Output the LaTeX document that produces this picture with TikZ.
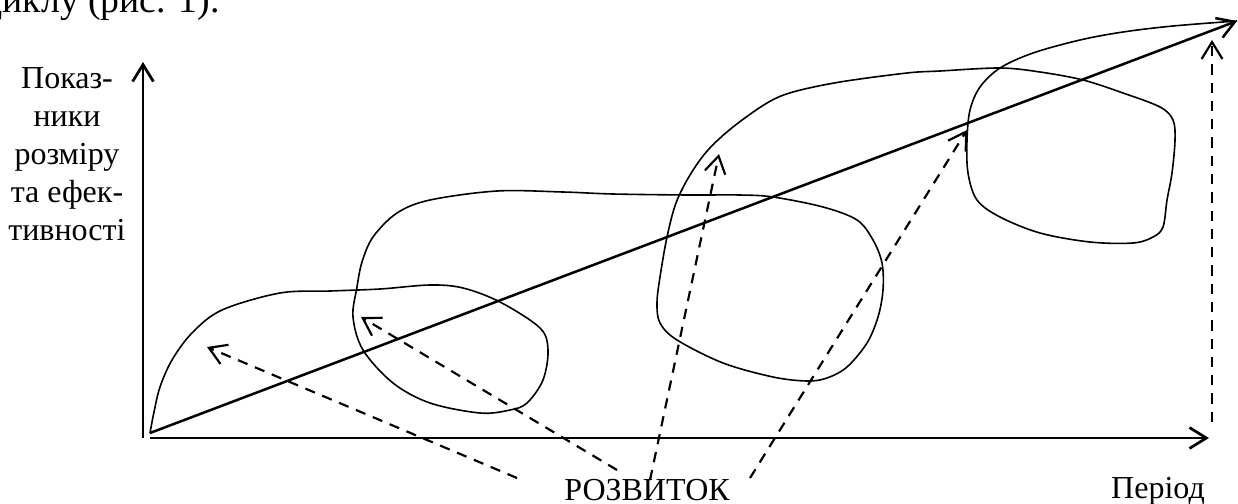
\documentclass[tikz,border=0pt]{standalone}
\usepackage{fontspec}
\setmainfont{Liberation Serif}
\usetikzlibrary{arrows.meta}

\begin{document}
\begin{tikzpicture}[
  x=0.4375pt, y=-0.4375pt,
  font=\fontsize{14}{16.6}\selectfont,
  tip/.style={-{Straight Barb[length=2.6mm,width=3.2mm]}},
  axisline/.style={tip, line width=1.2pt},
  trend/.style={tip, line width=1.1pt},
  spiral/.style={line width=0.7pt},
  devarr/.style={tip, dash pattern=on 4.5pt off 3.5pt, line width=0.95pt},
  lbl/.style={inner sep=0pt}
]
\clip (0,0) rectangle (1238,503);

% text of the page, cut by the picture
\node[lbl, anchor=base east, font=\fontsize{16.5}{19}\selectfont] (cap) at (220,13) {циклу (рис. 1).};

% axes
\coordinate (ybot) at (143,438);
\coordinate (ytop) at (143,62);
\coordinate (xbot) at (150,438);
\coordinate (xend) at (1209,438);
\draw[axisline] (ybot) -- (ytop);
\draw[axisline] (xbot) -- (xend);

\node[lbl, anchor=north, align=center] (ylab) at (67,67)
  {Показ-\\ники\\розміру\\та ефек-\\тивності};
\node[lbl, anchor=base] (xlab) at (1158,498) {Період};
\node[lbl, anchor=base] (dev) at (647,500) {РОЗВИТОК};

% trend line and development spiral
\coordinate (O) at (150,433);
\coordinate (T) at (1237,21);
\draw[spiral] plot[smooth, tension=0.55] coordinates {
  (O) (154,412) (160,387) (172,360) (192,333) (222,310) (280,293)
  (330,291) (380,289) (430,285) (463,288) (500,302) (540,328) (548,350)
  (543,380) (527,403) (510,410) (480,413) (430,403) (393,383)
  (363,350) (353,317) (357,287) (362,262) (373,237) (397,213)
  (430,200) (497,191) (563,192) (613,194) (688,195) (740,195)
  (773,197) (823,207) (857,220) (873,240) (882,263) (883,290)
  (878,317) (867,343) (847,367) (827,378) (807,381) (773,377)
  (723,363) (677,340) (660,323) (657,303) (660,277) (667,237)
  (676,203) (690,175) (708,150) (733,127) (767,103) (793,92)
  (840,82) (907,73) (940,71) (1000,68) (1040,72) (1083,80)
  (1123,93) (1160,107) (1173,120) (1175,140) (1172,173) (1167,200)
  (1163,227) (1153,237) (1133,243) (1090,242) (1040,233) (1000,217)
  (977,200) (968,173) (967,140) (970,110) (980,87) (1000,68)
  (1033,53) (1080,40) (1123,32) (1173,26) (T)};
\draw[trend] (O) -- (T);

% arrows of development
\coordinate (d1s) at (517,478); \coordinate (d1e) at (207,347);
\coordinate (d2s) at (617,470); \coordinate (d2e) at (361,317);
\coordinate (d3s) at (650,480); \coordinate (d3e) at (719,154);
\coordinate (d4s) at (750,478); \coordinate (d4e) at (967,130);
\coordinate (d5s) at (1212,422); \coordinate (d5e) at (1212,40);
\draw[devarr] (d1s) -- (d1e);
\draw[devarr] (d2s) -- (d2e);
\draw[devarr] (d3s) -- (d3e);
\draw[devarr] (d4s) -- (d4e);
\draw[devarr] (d5s) -- (d5e);
\end{tikzpicture}
\end{document}
